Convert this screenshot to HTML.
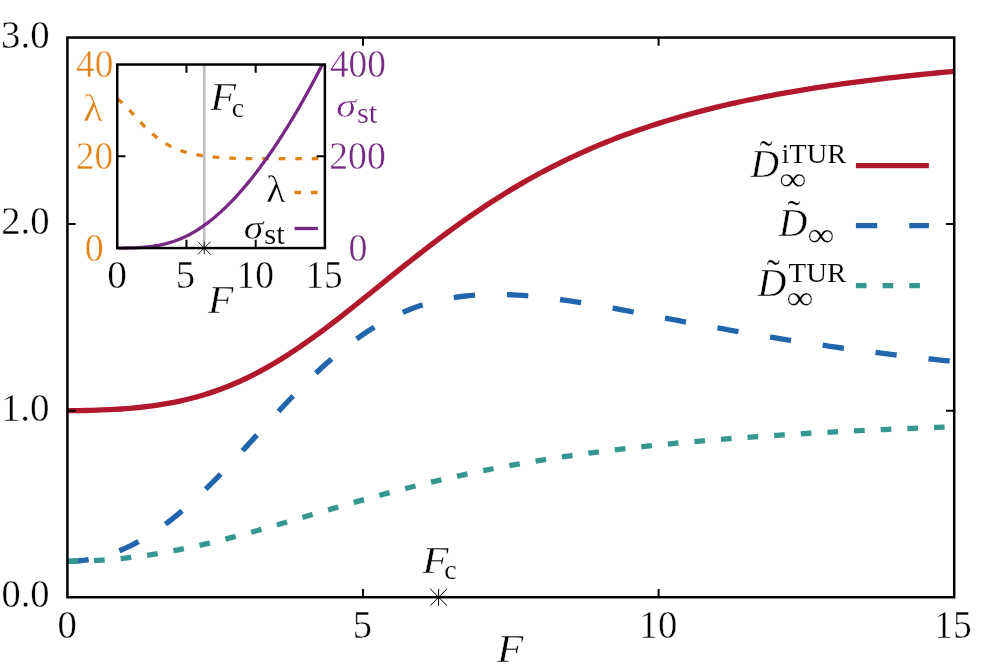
<!DOCTYPE html>
<html><head><meta charset="utf-8"><title>Diffusion coefficient bounds</title>
<style>
html,body{margin:0;padding:0;background:#fff}
body{width:998px;height:672px;overflow:hidden}
svg{display:block;will-change:transform}
svg text{font-family:"Liberation Serif",serif}
</style></head><body>
<svg width="998" height="672" viewBox="0 0 998 672">
<defs><clipPath id="cm"><rect x="67.40" y="37.55" width="886.80" height="559.65"/></clipPath>
<clipPath id="ci"><rect x="117.25" y="64.05" width="208.65" height="187.52"/></clipPath></defs>
<rect width="998" height="672" fill="#fff"/>
<g clip-path="url(#cm)" fill="none" stroke-width="5.33">
<path d="M67.40,410.65 L73.31,410.63 L79.22,410.58 L85.14,410.48 L91.05,410.35 L96.96,410.18 L102.87,409.96 L108.78,409.69 L114.70,409.37 L120.61,409.00 L126.52,408.56 L132.43,408.06 L138.34,407.49 L144.26,406.85 L150.17,406.12 L156.08,405.31 L161.99,404.40 L167.90,403.40 L173.82,402.29 L179.73,401.07 L185.64,399.74 L191.55,398.28 L197.46,396.70 L203.38,394.98 L209.29,393.13 L215.20,391.14 L221.11,389.01 L227.02,386.73 L232.94,384.31 L238.85,381.73 L244.76,379.01 L250.67,376.14 L256.58,373.12 L262.50,369.96 L268.41,366.65 L274.32,363.21 L280.23,359.63 L286.14,355.92 L292.06,352.09 L297.97,348.13 L303.88,344.07 L309.79,339.90 L315.70,335.64 L321.62,331.28 L327.53,326.85 L333.44,322.34 L339.35,317.77 L345.26,313.15 L351.18,308.47 L357.09,303.76 L363.00,299.02 L368.91,294.26 L374.82,289.49 L380.74,284.71 L386.65,279.94 L392.56,275.17 L398.47,270.42 L404.38,265.70 L410.30,261.00 L416.21,256.34 L422.12,251.73 L428.03,247.15 L433.94,242.63 L439.86,238.16 L445.77,233.76 L451.68,229.41 L457.59,225.13 L463.50,220.92 L469.42,216.77 L475.33,212.70 L481.24,208.71 L487.15,204.79 L493.06,200.94 L498.98,197.18 L504.89,193.49 L510.80,189.88 L516.71,186.35 L522.62,182.90 L528.54,179.52 L534.45,176.23 L540.36,173.01 L546.27,169.87 L552.18,166.80 L558.10,163.81 L564.01,160.90 L569.92,158.06 L575.83,155.29 L581.74,152.59 L587.66,149.96 L593.57,147.40 L599.48,144.90 L605.39,142.48 L611.30,140.11 L617.22,137.81 L623.13,135.57 L629.04,133.39 L634.95,131.27 L640.86,129.20 L646.78,127.20 L652.69,125.24 L658.60,123.34 L664.51,121.49 L670.42,119.69 L676.34,117.94 L682.25,116.23 L688.16,114.57 L694.07,112.96 L699.98,111.39 L705.90,109.86 L711.81,108.37 L717.72,106.93 L723.63,105.52 L729.54,104.15 L735.46,102.81 L741.37,101.52 L747.28,100.25 L753.19,99.02 L759.10,97.82 L765.02,96.65 L770.93,95.52 L776.84,94.41 L782.75,93.33 L788.66,92.28 L794.58,91.26 L800.49,90.26 L806.40,89.29 L812.31,88.34 L818.22,87.42 L824.14,86.52 L830.05,85.64 L835.96,84.78 L841.87,83.95 L847.78,83.13 L853.70,82.34 L859.61,81.56 L865.52,80.81 L871.43,80.07 L877.34,79.35 L883.26,78.65 L889.17,77.96 L895.08,77.29 L900.99,76.64 L906.90,76.00 L912.82,75.37 L918.73,74.76 L924.64,74.17 L930.55,73.58 L936.46,73.02 L942.38,72.46 L948.29,71.92 L954.20,71.38" stroke="#b2182b"/>
<path d="M67.40,561.30 L73.31,561.16 L79.22,560.75 L85.14,560.07 L91.05,559.12 L96.96,557.89 L102.87,556.39 L108.78,554.61 L114.70,552.57 L120.61,550.25 L126.52,547.67 L132.43,544.82 L138.34,541.70 L144.26,538.32 L150.17,534.68 L156.08,530.79 L161.99,526.65 L167.90,522.27 L173.82,517.66 L179.73,512.82 L185.64,507.77 L191.55,502.51 L197.46,497.06 L203.38,491.43 L209.29,485.64 L215.20,479.69 L221.11,473.62 L227.02,467.42 L232.94,461.13 L238.85,454.76 L244.76,448.33 L250.67,441.86 L256.58,435.36 L262.50,428.87 L268.41,422.39 L274.32,415.94 L280.23,409.55 L286.14,403.24 L292.06,397.02 L297.97,390.90 L303.88,384.91 L309.79,379.05 L315.70,373.35 L321.62,367.81 L327.53,362.45 L333.44,357.28 L339.35,352.30 L345.26,347.52 L351.18,342.95 L357.09,338.60 L363.00,334.46 L368.91,330.54 L374.82,326.84 L380.74,323.37 L386.65,320.12 L392.56,317.08 L398.47,314.26 L404.38,311.66 L410.30,309.26 L416.21,307.08 L422.12,305.09 L428.03,303.29 L433.94,301.68 L439.86,300.26 L445.77,299.01 L451.68,297.93 L457.59,297.00 L463.50,296.24 L469.42,295.62 L475.33,295.13 L481.24,294.78 L487.15,294.56 L493.06,294.45 L498.98,294.46 L504.89,294.57 L510.80,294.77 L516.71,295.07 L522.62,295.45 L528.54,295.92 L534.45,296.45 L540.36,297.05 L546.27,297.72 L552.18,298.44 L558.10,299.22 L564.01,300.04 L569.92,300.90 L575.83,301.81 L581.74,302.75 L587.66,303.72 L593.57,304.72 L599.48,305.75 L605.39,306.79 L611.30,307.86 L617.22,308.94 L623.13,310.04 L629.04,311.14 L634.95,312.26 L640.86,313.38 L646.78,314.51 L652.69,315.64 L658.60,316.77 L664.51,317.91 L670.42,319.04 L676.34,320.17 L682.25,321.29 L688.16,322.41 L694.07,323.53 L699.98,324.64 L705.90,325.74 L711.81,326.83 L717.72,327.91 L723.63,328.99 L729.54,330.05 L735.46,331.11 L741.37,332.15 L747.28,333.18 L753.19,334.20 L759.10,335.21 L765.02,336.21 L770.93,337.19 L776.84,338.16 L782.75,339.12 L788.66,340.07 L794.58,341.00 L800.49,341.92 L806.40,342.83 L812.31,343.72 L818.22,344.60 L824.14,345.47 L830.05,346.33 L835.96,347.17 L841.87,348.01 L847.78,348.82 L853.70,349.63 L859.61,350.42 L865.52,351.20 L871.43,351.97 L877.34,352.73 L883.26,353.47 L889.17,354.21 L895.08,354.93 L900.99,355.64 L906.90,356.34 L912.82,357.03 L918.73,357.70 L924.64,358.37 L930.55,359.02 L936.46,359.67 L942.38,360.30 L948.29,360.93 L954.20,361.54" stroke="#2166ac" stroke-dasharray="21.33 32.00"/>
<path d="M67.40,561.30 L73.31,561.27 L79.22,561.17 L85.14,561.00 L91.05,560.76 L96.96,560.46 L102.87,560.09 L108.78,559.65 L114.70,559.15 L120.61,558.58 L126.52,557.95 L132.43,557.26 L138.34,556.51 L144.26,555.69 L150.17,554.81 L156.08,553.88 L161.99,552.89 L167.90,551.84 L173.82,550.73 L179.73,549.58 L185.64,548.37 L191.55,547.12 L197.46,545.82 L203.38,544.47 L209.29,543.08 L215.20,541.65 L221.11,540.19 L227.02,538.68 L232.94,537.15 L238.85,535.58 L244.76,533.99 L250.67,532.37 L256.58,530.72 L262.50,529.06 L268.41,527.38 L274.32,525.68 L280.23,523.97 L286.14,522.25 L292.06,520.52 L297.97,518.78 L303.88,517.04 L309.79,515.30 L315.70,513.56 L321.62,511.82 L327.53,510.09 L333.44,508.37 L339.35,506.65 L345.26,504.94 L351.18,503.25 L357.09,501.57 L363.00,499.91 L368.91,498.26 L374.82,496.63 L380.74,495.01 L386.65,493.42 L392.56,491.85 L398.47,490.30 L404.38,488.77 L410.30,487.26 L416.21,485.78 L422.12,484.32 L428.03,482.88 L433.94,481.47 L439.86,480.09 L445.77,478.73 L451.68,477.39 L457.59,476.08 L463.50,474.80 L469.42,473.54 L475.33,472.30 L481.24,471.09 L487.15,469.91 L493.06,468.75 L498.98,467.62 L504.89,466.50 L510.80,465.42 L516.71,464.35 L522.62,463.31 L528.54,462.30 L534.45,461.30 L540.36,460.33 L546.27,459.38 L552.18,458.45 L558.10,457.54 L564.01,456.66 L569.92,455.79 L575.83,454.94 L581.74,454.12 L587.66,453.31 L593.57,452.52 L599.48,451.75 L605.39,451.00 L611.30,450.26 L617.22,449.54 L623.13,448.84 L629.04,448.16 L634.95,447.49 L640.86,446.83 L646.78,446.19 L652.69,445.57 L658.60,444.96 L664.51,444.36 L670.42,443.78 L676.34,443.21 L682.25,442.66 L688.16,442.12 L694.07,441.58 L699.98,441.07 L705.90,440.56 L711.81,440.06 L717.72,439.58 L723.63,439.11 L729.54,438.64 L735.46,438.19 L741.37,437.75 L747.28,437.32 L753.19,436.89 L759.10,436.48 L765.02,436.07 L770.93,435.68 L776.84,435.29 L782.75,434.91 L788.66,434.54 L794.58,434.18 L800.49,433.82 L806.40,433.47 L812.31,433.13 L818.22,432.80 L824.14,432.47 L830.05,432.15 L835.96,431.84 L841.87,431.53 L847.78,431.23 L853.70,430.94 L859.61,430.65 L865.52,430.37 L871.43,430.09 L877.34,429.82 L883.26,429.55 L889.17,429.29 L895.08,429.04 L900.99,428.79 L906.90,428.54 L912.82,428.30 L918.73,428.06 L924.64,427.83 L930.55,427.61 L936.46,427.38 L942.38,427.16 L948.29,426.95 L954.20,426.74" stroke="#35978f" stroke-dasharray="10.67 16.00"/>
</g>
<path d="M855.90,165.60 H928.90" fill="none" stroke="#b2182b" stroke-width="5.33"/>
<path d="M855.90,225.60 H928.90" fill="none" stroke="#2166ac" stroke-width="5.33" stroke-dasharray="21.33 32.00"/>
<path d="M855.90,285.60 H928.90" fill="none" stroke="#35978f" stroke-width="5.33" stroke-dasharray="10.67 16.00"/>
<g stroke="#000" stroke-width="2" fill="none">
<rect x="67.40" y="37.55" width="886.80" height="559.65" stroke-width="2.5"/>
<path d="M363.00,597.20 v-8.20 M363.00,37.55 v8.20 M658.60,597.20 v-8.20 M658.60,37.55 v8.20 M67.40,410.65 h8.20 M954.20,410.65 h-8.20 M67.40,224.10 h8.20 M954.20,224.10 h-8.20 "/>
</g>
<path d="M430.20,597.20 h16.80 M438.60,588.80 v16.80 M430.20,588.80 l16.80,16.80 M430.20,605.60 l16.80,-16.80" stroke="#000" stroke-width="1.00" fill="none"/>
<rect x="117.25" y="64.55" width="207.65" height="183.52" fill="#fff"/>
<path d="M204.23,64.55 V248.07" stroke="#bebebe" stroke-width="2.67" fill="none"/>
<g clip-path="url(#ci)" fill="none" stroke-width="3.30">
<path d="M117.25,98.89 L118.63,99.91 L120.02,101.02 L121.40,102.20 L122.79,103.44 L124.17,104.74 L125.56,106.10 L126.94,107.50 L128.32,108.94 L129.71,110.41 L131.09,111.91 L132.48,113.42 L133.86,114.94 L135.25,116.47 L136.63,118.00 L138.01,119.52 L139.40,121.02 L140.78,122.51 L142.17,123.98 L143.55,125.42 L144.94,126.83 L146.32,128.22 L147.71,129.56 L149.09,130.88 L150.47,132.15 L151.86,133.39 L153.24,134.59 L154.63,135.75 L156.01,136.86 L157.40,137.94 L158.78,138.98 L160.16,139.98 L161.55,140.93 L162.93,141.85 L164.32,142.73 L165.70,143.58 L167.09,144.38 L168.47,145.15 L169.85,145.89 L171.24,146.59 L172.62,147.26 L174.01,147.90 L175.39,148.51 L176.78,149.09 L178.16,149.64 L179.54,150.16 L180.93,150.66 L182.31,151.13 L183.70,151.58 L185.08,152.00 L186.47,152.40 L187.85,152.78 L189.24,153.14 L190.62,153.49 L192.00,153.81 L193.39,154.12 L194.77,154.40 L196.16,154.68 L197.54,154.94 L198.93,155.18 L200.31,155.41 L201.69,155.63 L203.08,155.83 L204.46,156.02 L205.85,156.20 L207.23,156.38 L208.62,156.54 L210.00,156.69 L211.38,156.83 L212.77,156.96 L214.15,157.09 L215.54,157.21 L216.92,157.32 L218.31,157.42 L219.69,157.52 L221.07,157.61 L222.46,157.69 L223.84,157.77 L225.23,157.85 L226.61,157.92 L228.00,157.98 L229.38,158.04 L230.77,158.10 L232.15,158.15 L233.53,158.20 L234.92,158.25 L236.30,158.29 L237.69,158.33 L239.07,158.36 L240.46,158.40 L241.84,158.43 L243.22,158.45 L244.61,158.48 L245.99,158.50 L247.38,158.53 L248.76,158.55 L250.15,158.56 L251.53,158.58 L252.91,158.59 L254.30,158.61 L255.68,158.62 L257.07,158.63 L258.45,158.64 L259.84,158.65 L261.22,158.65 L262.61,158.66 L263.99,158.66 L265.37,158.67 L266.76,158.67 L268.14,158.67 L269.53,158.67 L270.91,158.67 L272.30,158.67 L273.68,158.67 L275.06,158.67 L276.45,158.67 L277.83,158.67 L279.22,158.67 L280.60,158.66 L281.99,158.66 L283.37,158.66 L284.75,158.65 L286.14,158.65 L287.52,158.64 L288.91,158.64 L290.29,158.63 L291.68,158.63 L293.06,158.62 L294.44,158.62 L295.83,158.61 L297.21,158.60 L298.60,158.60 L299.98,158.59 L301.37,158.58 L302.75,158.58 L304.13,158.57 L305.52,158.56 L306.90,158.56 L308.29,158.55 L309.67,158.54 L311.06,158.53 L312.44,158.53 L313.83,158.52 L315.21,158.51 L316.59,158.50 L317.98,158.50 L319.36,158.49 L320.75,158.48 L322.13,158.47 L323.52,158.47 L324.90,158.46" stroke="#e08214" stroke-dasharray="6.60 9.90"/>
<path d="M117.25,248.07 L118.63,248.07 L120.02,248.06 L121.40,248.05 L122.79,248.04 L124.17,248.02 L125.56,248.00 L126.94,247.98 L128.32,247.95 L129.71,247.92 L131.09,247.88 L132.48,247.83 L133.86,247.78 L135.25,247.72 L136.63,247.66 L138.01,247.59 L139.40,247.51 L140.78,247.43 L142.17,247.33 L143.55,247.22 L144.94,247.11 L146.32,246.98 L147.71,246.85 L149.09,246.70 L150.47,246.54 L151.86,246.36 L153.24,246.17 L154.63,245.97 L156.01,245.75 L157.40,245.52 L158.78,245.27 L160.16,245.01 L161.55,244.72 L162.93,244.42 L164.32,244.10 L165.70,243.76 L167.09,243.40 L168.47,243.02 L169.85,242.62 L171.24,242.20 L172.62,241.76 L174.01,241.30 L175.39,240.81 L176.78,240.31 L178.16,239.77 L179.54,239.22 L180.93,238.65 L182.31,238.05 L183.70,237.42 L185.08,236.78 L186.47,236.11 L187.85,235.41 L189.24,234.69 L190.62,233.95 L192.00,233.18 L193.39,232.39 L194.77,231.58 L196.16,230.74 L197.54,229.88 L198.93,228.99 L200.31,228.08 L201.69,227.15 L203.08,226.19 L204.46,225.21 L205.85,224.20 L207.23,223.17 L208.62,222.12 L210.00,221.04 L211.38,219.94 L212.77,218.82 L214.15,217.68 L215.54,216.51 L216.92,215.32 L218.31,214.10 L219.69,212.87 L221.07,211.61 L222.46,210.33 L223.84,209.02 L225.23,207.70 L226.61,206.35 L228.00,204.98 L229.38,203.59 L230.77,202.18 L232.15,200.75 L233.53,199.29 L234.92,197.82 L236.30,196.32 L237.69,194.80 L239.07,193.26 L240.46,191.70 L241.84,190.12 L243.22,188.52 L244.61,186.90 L245.99,185.25 L247.38,183.59 L248.76,181.91 L250.15,180.20 L251.53,178.48 L252.91,176.73 L254.30,174.97 L255.68,173.19 L257.07,171.38 L258.45,169.56 L259.84,167.71 L261.22,165.85 L262.61,163.97 L263.99,162.07 L265.37,160.14 L266.76,158.20 L268.14,156.24 L269.53,154.26 L270.91,152.26 L272.30,150.24 L273.68,148.20 L275.06,146.14 L276.45,144.06 L277.83,141.97 L279.22,139.85 L280.60,137.72 L281.99,135.56 L283.37,133.39 L284.75,131.20 L286.14,128.98 L287.52,126.75 L288.91,124.50 L290.29,122.24 L291.68,119.95 L293.06,117.64 L294.44,115.32 L295.83,112.97 L297.21,110.61 L298.60,108.23 L299.98,105.83 L301.37,103.41 L302.75,100.97 L304.13,98.51 L305.52,96.04 L306.90,93.54 L308.29,91.03 L309.67,88.50 L311.06,85.95 L312.44,83.38 L313.83,80.79 L315.21,78.18 L316.59,75.56 L317.98,72.92 L319.36,70.25 L320.75,67.57 L322.13,64.87 L323.52,62.15 L324.90,59.42" stroke="#762a83"/>
</g>
<path d="M294.5,192.5 H317.9" fill="none" stroke="#e08214" stroke-width="3.30" stroke-dasharray="6.60 9.90"/>
<path d="M294.5,228.5 H317.9" fill="none" stroke="#762a83" stroke-width="3.30"/>
<g stroke="#000" stroke-width="2" fill="none">
<rect x="117.25" y="64.55" width="207.65" height="183.52" stroke-width="2.5"/>
<path d="M186.47,248.07 v-8.20 M186.47,64.55 v8.20 M255.68,248.07 v-8.20 M255.68,64.55 v8.20 M117.25,156.31 h8.20 M324.90,156.31 h-8.20 "/>
</g>
<path d="M197.80,248.07 h12.80 M204.20,241.67 v12.80 M197.80,241.67 l12.80,12.80 M197.80,254.47 l12.80,-12.80" stroke="#000" stroke-width="0.90" fill="none"/>
<text x="0" y="0" font-size="40.00" fill="#000" stroke="#fff" stroke-width="0.450" paint-order="fill stroke" transform="matrix(0.96266,0,0,1,1.43,607.20)">0.0</text>
<text x="0" y="0" font-size="40.00" fill="#000" stroke="#fff" stroke-width="0.450" paint-order="fill stroke" transform="matrix(0.97418,0,0,1,0.88,420.65)">1.0</text>
<text x="0" y="0" font-size="40.00" fill="#000" stroke="#fff" stroke-width="0.450" paint-order="fill stroke" transform="matrix(0.96749,0,0,1,1.20,234.10)">2.0</text>
<text x="0" y="0" font-size="40.00" fill="#000" stroke="#fff" stroke-width="0.450" paint-order="fill stroke" transform="matrix(0.97074,0,0,1,1.04,47.55)">3.0</text>
<text x="0" y="0" font-size="40.00" fill="#000" stroke="#fff" stroke-width="0.450" paint-order="fill stroke" transform="matrix(0.97327,0,0,1,57.52,637.50)">0</text>
<text x="0" y="0" font-size="40.00" fill="#000" stroke="#fff" stroke-width="0.450" paint-order="fill stroke" transform="matrix(0.96815,0,0,1,352.70,637.50)">5</text>
<text x="0" y="0" font-size="40.00" fill="#000" stroke="#fff" stroke-width="0.450" paint-order="fill stroke" transform="matrix(0.96679,0,0,1,638.70,637.50)">10</text>
<text x="0" y="0" font-size="40.00" fill="#000" stroke="#fff" stroke-width="0.450" paint-order="fill stroke" transform="matrix(0.93924,0,0,1,934.20,637.50)">15</text>
<text x="0" y="0" font-size="100" fill="#000" stroke="#fff" stroke-width="1.084" paint-order="fill stroke" font-style="italic" transform="matrix(0.43234,0,0,0.39860,496.93,662.00)">F</text>
<text x="0" y="0" font-size="100" fill="#000" stroke="#fff" stroke-width="1.107" paint-order="fill stroke" font-style="italic" transform="matrix(0.43074,0,0,0.38333,422.23,572.60)">F</text>
<text x="0" y="0" font-size="100" fill="#000" stroke="#fff" stroke-width="0.552" paint-order="fill stroke" transform="matrix(0.28000,0,0,0.26406,444.13,578.94)">c</text>
<text x="0" y="0" font-size="40.00" fill="#e08214" stroke="#fff" stroke-width="0.450" paint-order="fill stroke" transform="matrix(0.93380,0,0,1,76.07,77.00)">40</text>
<text x="0" y="0" font-size="40.00" fill="#e08214" stroke="#fff" stroke-width="0.450" paint-order="fill stroke" transform="matrix(0.93685,0,0,1,75.65,168.76)">20</text>
<text x="0" y="0" font-size="40.00" fill="#e08214" stroke="#fff" stroke-width="0.450" paint-order="fill stroke" transform="matrix(0.94968,0,0,1,84.85,260.52)">0</text>
<text x="0" y="0" font-size="100" fill="#e08214" stroke="#fff" stroke-width="1.128" paint-order="fill stroke" transform="matrix(0.41490,0,0,0.38347,83.11,120.90)">λ</text>
<text x="0" y="0" font-size="40.00" fill="#762a83" stroke="#fff" stroke-width="0.450" paint-order="fill stroke" transform="matrix(0.93248,0,0,1,329.97,77.00)">400</text>
<text x="0" y="0" font-size="40.00" fill="#762a83" stroke="#fff" stroke-width="0.450" paint-order="fill stroke" transform="matrix(0.94149,0,0,1,329.25,168.76)">200</text>
<text x="0" y="0" font-size="40.00" fill="#762a83" stroke="#fff" stroke-width="0.450" paint-order="fill stroke" transform="matrix(0.94968,0,0,1,348.40,260.52)">0</text>
<text x="0" y="0" font-size="100" fill="#762a83" stroke="#fff" stroke-width="1.213" paint-order="fill stroke" font-style="italic" transform="matrix(0.40394,0,0,0.34070,336.20,117.47)">σ</text>
<text x="0" y="0" font-size="100" fill="#762a83" stroke="#fff" stroke-width="0.497" paint-order="fill stroke" transform="matrix(0.30639,0,0,0.29681,356.94,122.91)">st</text>
<text x="0" y="0" font-size="40.00" fill="#000" stroke="#fff" stroke-width="0.450" paint-order="fill stroke" transform="matrix(0.98507,0,0,1,107.18,287.80)">0</text>
<text x="0" y="0" font-size="40.00" fill="#000" stroke="#fff" stroke-width="0.450" paint-order="fill stroke" transform="matrix(0.96815,0,0,1,175.80,287.80)">5</text>
<text x="0" y="0" font-size="40.00" fill="#000" stroke="#fff" stroke-width="0.450" paint-order="fill stroke" transform="matrix(0.93533,0,0,1,236.56,287.80)">10</text>
<text x="0" y="0" font-size="40.00" fill="#000" stroke="#fff" stroke-width="0.450" paint-order="fill stroke" transform="matrix(0.93351,0,0,1,305.42,287.80)">15</text>
<text x="0" y="0" font-size="100" fill="#000" stroke="#fff" stroke-width="1.098" paint-order="fill stroke" font-style="italic" transform="matrix(0.41793,0,0,0.40166,208.02,313.40)">F</text>
<text x="0" y="0" font-size="100" fill="#000" stroke="#fff" stroke-width="1.094" paint-order="fill stroke" font-style="italic" transform="matrix(0.42273,0,0,0.40013,210.13,110.20)">F</text>
<text x="0" y="0" font-size="100" fill="#000" stroke="#fff" stroke-width="0.540" paint-order="fill stroke" transform="matrix(0.27733,0,0,0.27861,231.84,116.83)">c</text>
<text x="0" y="0" font-size="100" fill="#000" stroke="#fff" stroke-width="1.138" paint-order="fill stroke" transform="matrix(0.40166,0,0,0.38915,266.04,202.40)">λ</text>
<text x="0" y="0" font-size="100" fill="#000" stroke="#fff" stroke-width="1.212" paint-order="fill stroke" font-style="italic" transform="matrix(0.39789,0,0,0.34641,243.81,238.96)">σ</text>
<text x="0" y="0" font-size="100" fill="#000" stroke="#fff" stroke-width="0.495" paint-order="fill stroke" transform="matrix(0.30801,0,0,0.29856,264.34,243.81)">st</text>
<text x="0" y="0" font-size="100" fill="#000" stroke="#fff" stroke-width="1.127" paint-order="fill stroke" font-style="italic" transform="matrix(0.39540,0,0,0.40351,750.54,176.92)">D</text>
<text x="0" y="0" font-size="100" fill="#000" stroke="#fff" stroke-width="0.399" paint-order="fill stroke" transform="matrix(0.38558,0,0,0.36739,759.66,165.96)">˜</text>
<text x="0" y="0" font-size="100" fill="#000" stroke="#fff" stroke-width="0.540" paint-order="fill stroke" transform="matrix(0.28510,0,0,0.27088,781.40,162.74)">iTUR</text>
<text x="0" y="0" font-size="100" fill="#000" stroke="#fff" stroke-width="0.840" paint-order="fill stroke" transform="matrix(0.38292,0,0,0.33346,779.16,189.51)">∞</text>
<text x="0" y="0" font-size="100" fill="#000" stroke="#fff" stroke-width="1.127" paint-order="fill stroke" font-style="italic" transform="matrix(0.39540,0,0,0.40351,778.64,236.02)">D</text>
<text x="0" y="0" font-size="100" fill="#000" stroke="#fff" stroke-width="0.410" paint-order="fill stroke" transform="matrix(0.38874,0,0,0.34394,787.56,223.78)">˜</text>
<text x="0" y="0" font-size="100" fill="#000" stroke="#fff" stroke-width="0.838" paint-order="fill stroke" transform="matrix(0.37821,0,0,0.33871,807.38,246.06)">∞</text>
<text x="0" y="0" font-size="100" fill="#000" stroke="#fff" stroke-width="1.127" paint-order="fill stroke" font-style="italic" transform="matrix(0.39958,0,0,0.39894,757.45,296.02)">D</text>
<text x="0" y="0" font-size="100" fill="#000" stroke="#fff" stroke-width="0.398" paint-order="fill stroke" transform="matrix(0.39506,0,0,0.35957,766.75,285.23)">˜</text>
<text x="0" y="0" font-size="100" fill="#000" stroke="#fff" stroke-width="0.527" paint-order="fill stroke" transform="matrix(0.28933,0,0,0.27989,788.48,282.43)">TUR</text>
<text x="0" y="0" font-size="100" fill="#000" stroke="#fff" stroke-width="0.843" paint-order="fill stroke" transform="matrix(0.37664,0,0,0.33608,786.48,309.13)">∞</text>
</svg>
</body></html>
